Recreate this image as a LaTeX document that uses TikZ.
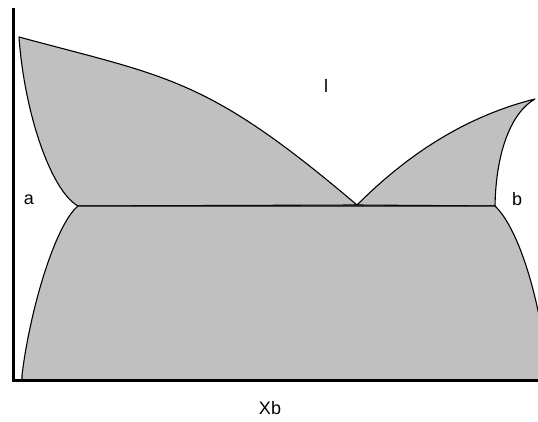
\documentclass[tikz,border=0pt]{standalone}
\usepackage{fontspec}
\setmainfont{Liberation Sans}
\usepackage{tikz}
\definecolor{ink}{HTML}{000000}
\definecolor{phasefill}{HTML}{C0C0C0}
\tikzset{
  phase/.style={fill=phasefill,draw=ink,line width=1.1pt,line join=round},
  axis/.style={draw=ink,line width=3pt},
  lbl/.style={font=\fontsize{18}{20}\selectfont,text=ink,inner sep=0pt},
}

\begin{document}
\begin{tikzpicture}[x=1pt,y=-1pt]
  \useasboundingbox (0,0) rectangle (538,422);
  \coordinate (meltA) at (19,37);
  \coordinate (meltB) at (535,99);
  \coordinate (eut) at (357,205);
  \coordinate (solA) at (78,206);
  \coordinate (solB) at (495,206);
  \coordinate (baseA) at (22,375);
  \begin{scope}
    \clip (0,0) rectangle (538,422);
    % l + a
    \path[phase] (meltA) .. controls (169,77.5) and (207,77.5) .. (eut)
      -- (solA) .. controls (50,190) and (24,110) .. (meltA) -- cycle;
    % l + b
    \path[phase] (eut) .. controls (407,155) and (465,116.5) .. (meltB)
      .. controls (512,112) and (496,150) .. (solB) -- cycle;
    % a + b
    \path[phase] (solA) .. controls (55,225) and (30,310) .. (baseA)
      -- (22,380) -- (545,380) -- (545,350)
      .. controls (535,280) and (515,225) .. (solB) -- cycle;
  \end{scope}
  \draw[axis] (13.5,8) -- (13.5,380) -- (538,380);
  \node[lbl] (liq) at (326,86) {l};
  \node[lbl] (alpha) at (29,200) {a};
  \node[lbl] (beta) at (517,199) {b};
  \node[lbl] (comp) at (270,408) {Xb};
\end{tikzpicture}
\end{document}
